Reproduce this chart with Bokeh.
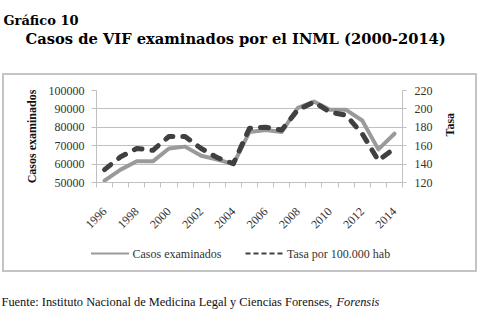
import math
from bokeh.plotting import figure
from bokeh.layouts import column, row
from bokeh.models import (Range1d, LinearAxis, FixedTicker, Label, ColumnDataSource, Spacer)
from bokeh.embed import file_html
from bokeh.resources import INLINE

# ---------------- data ----------------
years = list(range(1996, 2015))
casos = [51000, 57000, 61500, 61500, 68500, 69500, 64500, 62500, 60000, 77500,
         78500, 77500, 90500, 94000, 89500, 89500, 83700, 68000, 76500]
tasa = [134, 148, 157, 155, 170, 170, 157, 147, 140.5, 179,
        180, 177, 199, 207.5, 196.5, 193, 173, 144, 157]
x_label_years = [1996, 1998, 2000, 2002, 2004, 2006, 2008, 2010, 2012, 2014]
left_ticks = [50000, 60000, 70000, 80000, 90000, 100000]
right_ticks = [120, 140, 160, 180, 200, 220]
series_names = ["Casos examinados", "Tasa por 100.000 hab"]
title1 = "Gráfico 10"
title2 = "Casos de VIF examinados por el INML (2000-2014)"
source_text = "Fuente: Instituto Nacional de Medicina Legal y Ciencias Forenses, "
source_italic = "Forensis"

# ---------------- styles ----------------
W = 480
GRID = "#c0c0c0"
BOX = "#c4c4c4"
TXT = "#333333"
SERIF = "Liberation Serif"
C_CASOS = "#9a9a9a"
C_TASA = "#404040"


def text_fig(width, height):
    f = figure(width=width, height=height, x_range=Range1d(0, width),
               y_range=Range1d(height, 0), x_axis_type=None, y_axis_type=None,
               output_backend="svg", toolbar_location=None, min_border=0)
    f.outline_line_color = None
    f.grid.visible = False
    f.frame_align = False
    return f


# ---------------- title figure (y 0..73) ----------------
ft = text_fig(W, 73)
ft.add_layout(Label(x=3, y=19.5, text=title1, text_font="DejaVu Serif",
                    text_font_style="bold", text_font_size="13px", text_color="black",
                    text_baseline="alphabetic"))
ft.add_layout(Label(x=25, y=38, text=title2, text_font="DejaVu Serif",
                    text_font_style="bold", text_font_size="14.7px", text_color="black",
                    text_baseline="alphabetic"))

# ---------------- main chart (canvas x 4..475, y 75..245) ----------------
PW, PH = 471, 170
p = figure(width=PW, height=PH,
           x_range=Range1d(years[0] - 0.5, years[-1] + 0.5),
           y_range=Range1d(left_ticks[0], left_ticks[-1]),
           output_backend="svg", toolbar_location=None,
           min_border_left=92, min_border_right=73, min_border_top=15,
           min_border_bottom=63)
p.frame_align = False
p.outline_line_color = None
p.extra_y_ranges = {"tasa": Range1d(right_ticks[0], right_ticks[-1])}

p.xgrid.visible = False
p.ygrid.ticker = FixedTicker(ticks=left_ticks)
p.ygrid.grid_line_color = GRID
p.ygrid.grid_line_width = 1

xa = p.xaxis[0]
xa.ticker = FixedTicker(ticks=x_label_years,
                        minor_ticks=[y - 0.5 for y in years] + [years[-1] + 0.5])
xa.major_label_overrides = {y: str(y) for y in x_label_years}
xa.major_tick_line_color = None
xa.minor_tick_line_color = GRID
xa.minor_tick_out = 5
xa.minor_tick_in = 0
xa.axis_line_color = GRID
xa.major_label_orientation = math.pi / 4
xa.major_label_standoff = 21
xa.major_label_text_font = SERIF
xa.major_label_text_font_size = "12px"
xa.major_label_text_color = TXT

ya = p.yaxis[0]
ya.ticker = FixedTicker(ticks=left_ticks)
ya.major_label_overrides = {t: str(t) for t in left_ticks}
ya.axis_line_color = GRID
ya.major_tick_line_color = GRID
ya.major_tick_out = 5
ya.major_tick_in = 0
ya.minor_tick_line_color = None
ya.major_label_standoff = 7
ya.major_label_text_font = SERIF
ya.major_label_text_font_size = "12px"
ya.major_label_text_color = TXT
ya.axis_label = "Casos examinados"
ya.axis_label_text_font = SERIF
ya.axis_label_text_font_style = "bold"
ya.axis_label_text_font_size = "12px"
ya.axis_label_text_color = "#111111"
ya.axis_label_standoff = 7

ra = LinearAxis(y_range_name="tasa", ticker=FixedTicker(ticks=right_ticks))
ra.major_label_overrides = {t: str(t) for t in right_ticks}
ra.axis_line_color = GRID
ra.major_tick_line_color = GRID
ra.major_tick_out = 4
ra.major_tick_in = 0
ra.minor_tick_line_color = None
ra.major_label_standoff = 8
ra.major_label_text_font = SERIF
ra.major_label_text_font_size = "12px"
ra.major_label_text_color = TXT
ra.axis_label = "Tasa"
ra.axis_label_orientation = math.pi / 2
ra.axis_label_text_font = SERIF
ra.axis_label_text_font_style = "bold"
ra.axis_label_text_font_size = "12px"
ra.axis_label_text_color = "#111111"
ra.axis_label_standoff = 14
p.add_layout(ra, "right")

src = ColumnDataSource(dict(year=years, casos=casos, tasa=tasa))
r_casos = p.line("year", "casos", source=src, line_color=C_CASOS, line_width=4,
                 line_join="round", line_cap="round", name=series_names[0])
r_tasa = p.line("year", "tasa", source=src, y_range_name="tasa", line_color=C_TASA,
                line_width=5, line_dash="8 10", line_join="round", line_cap="round",
                name=series_names[1])

# ---------------- legend strip (canvas x 4..475, y 245..270) ----------------
fl = text_fig(PW, 25)
LEG_Y = 8
fl.segment(x0=[86.5], y0=[LEG_Y], x1=[124.5], y1=[LEG_Y], line_color=C_CASOS, line_width=1.8)
fl.segment(x0=[241], y0=[LEG_Y], x1=[279], y1=[LEG_Y], line_color=C_TASA, line_width=2.2,
           line_dash="5 3")
fl.add_layout(Label(x=128, y=LEG_Y, text=series_names[0], text_font=SERIF,
                    text_font_size="12px", text_color=TXT, text_baseline="middle"))
fl.add_layout(Label(x=282.5, y=LEG_Y, text=series_names[1], text_font=SERIF,
                    text_font_size="12px", text_color=TXT, text_baseline="middle"))

# ---------------- source figure (y 272..313) ----------------
fb = text_fig(W, 41)
fb.add_layout(Label(x=1, y=29, text=source_text, text_font=SERIF,
                    text_font_size="12.4px", text_color="#111111",
                    text_baseline="alphabetic"))
fb.add_layout(Label(x=336, y=29, text=source_italic, text_font=SERIF,
                    text_font_style="italic", text_font_size="12.4px", text_color="#111111",
                    text_baseline="alphabetic"))


def bar(w, h, color=None):
    st = {"background-color": color} if color else {}
    return Spacer(width=w, height=h, styles=st)


box_h = PH + 25
layout = column(
    ft,
    row(bar(2, 2), bar(475, 2, BOX), bar(3, 2)),
    row(bar(2, box_h), bar(2, box_h, BOX), column(p, fl), bar(2, box_h, BOX), bar(3, box_h)),
    row(bar(2, 2), bar(475, 2, BOX), bar(3, 2)),
    fb,
)

open("out.html", "w").write(file_html(layout, INLINE))
